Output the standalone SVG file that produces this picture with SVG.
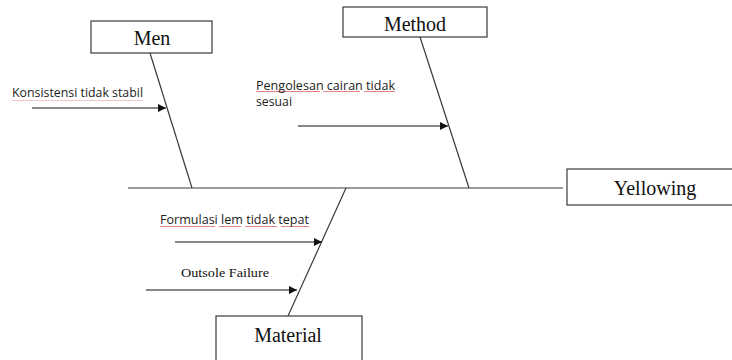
<svg xmlns="http://www.w3.org/2000/svg" width="732" height="360" viewBox="0 0 732 360">
  <style>
    .box { fill: #ffffff; stroke: #3a3a3a; stroke-width: 1.2; }
    .bone { stroke: #3a3a3a; stroke-width: 1.2; fill: none; }
    .arrow { stroke: #111111; stroke-width: 1.2; fill: none; marker-end: url(#ah); }
    .title { font-family: "Liberation Serif", "Times New Roman", serif; font-size: 20px; fill: #111111; text-anchor: middle; }
    .cause { font-family: "Open Sans", "Liberation Sans", sans-serif; font-size: 12px; fill: #222222; }
    .cause-serif { font-family: "Liberation Serif", "Times New Roman", serif; font-size: 13px; fill: #111111; }
    .squiggle { fill: url(#wave); }
  </style>
  <defs>
    <marker id="ah" viewBox="0 0 10 10" refX="10" refY="5" markerWidth="8" markerHeight="8" markerUnits="userSpaceOnUse" orient="auto">
      <path d="M0,0 L10,5 L0,10 z" fill="#111111"/>
    </marker>
    <pattern id="wave" x="0" y="0" width="4" height="3" patternUnits="userSpaceOnUse">
      <path d="M0,2 L1,1 L2,2 L3,1 L4,2" fill="none" stroke="#d9534f" stroke-width="0.7"/>
    </pattern>
  </defs>
  <rect width="732" height="360" fill="#ffffff"/>

  <g id="connectors">
    <line class="bone" x1="128" y1="188" x2="563" y2="188"/>
    <line class="bone" x1="150" y1="53" x2="192" y2="188"/>
    <line class="bone" x1="420" y1="37" x2="469" y2="188"/>
    <line class="bone" x1="346" y1="188" x2="288" y2="316"/>
    <line class="arrow" x1="32" y1="108" x2="166" y2="108"/>
    <line class="arrow" x1="298" y1="126" x2="448" y2="126"/>
    <line class="arrow" x1="175" y1="242" x2="322" y2="242"/>
    <line class="arrow" x1="146" y1="290" x2="297" y2="290"/>
  </g>

  <g id="men">
    <rect class="box" x="91" y="21" width="121" height="32"/>
    <text class="title" x="152" y="45">Men</text>
  </g>

  <g id="method">
    <rect class="box" x="343" y="7" width="144" height="30"/>
    <text class="title" x="415" y="31">Method</text>
  </g>

  <g id="yellowing">
    <rect class="box" x="567" y="169" width="180" height="36"/>
    <text class="title" x="655" y="195">Yellowing</text>
  </g>

  <g id="material">
    <rect class="box" x="216" y="316" width="146" height="60"/>
    <text class="title" x="288" y="342">Material</text>
  </g>

  <g id="cause-konsistensi">
    <rect class="squiggle" x="12" y="98" width="131" height="3" opacity="0.5"/>
    <text class="cause" x="12" y="97" textLength="131" lengthAdjust="spacingAndGlyphs">Konsistensi tidak stabil</text>
  </g>

  <g id="cause-pengolesan">
    <rect class="squiggle" x="256" y="91" width="64" height="3"/>
    <rect class="squiggle" x="323" y="91" width="37" height="3"/>
    <rect class="squiggle" x="364" y="91" width="31" height="3"/>
    <text class="cause" x="256" y="90" textLength="139" lengthAdjust="spacingAndGlyphs">Pengolesan cairan tidak</text>
    <text class="cause" x="256" y="106" textLength="36" lengthAdjust="spacingAndGlyphs">sesuai</text>
  </g>

  <g id="cause-formulasi">
    <rect class="squiggle" x="160" y="225" width="55" height="3"/>
    <rect class="squiggle" x="219" y="225" width="22" height="3"/>
    <rect class="squiggle" x="245" y="225" width="32" height="3"/>
    <rect class="squiggle" x="281" y="225" width="28" height="3"/>
    <text class="cause" x="160" y="224" textLength="149" lengthAdjust="spacingAndGlyphs">Formulasi lem tidak tepat</text>
  </g>

  <g id="cause-outsole">
    <text class="cause-serif" x="181" y="277" textLength="88" lengthAdjust="spacingAndGlyphs">Outsole Failure</text>
  </g>
</svg>
